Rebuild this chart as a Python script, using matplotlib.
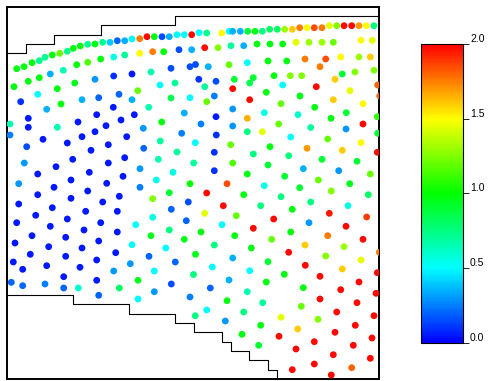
import numpy as np
import matplotlib
matplotlib.use("Agg")
import matplotlib.pyplot as plt
from matplotlib.colors import LinearSegmentedColormap

plt.rcParams['font.family'] = ['Liberation Sans', 'DejaVu Sans']

# node positions (x, y measured down from top) and field value, grouped in bands
top_arc = [
    (16.7, 68.7, 0.97), (24, 66.7, 0.97), (32, 62.7, 0.97), (39.3, 60.7, 0.72), (45, 57.3, 0.72),
    (52.3, 55, 0.97), (59.7, 53.3, 1.2), (67.3, 51.3, 0.72), (73.3, 48.3, 0.97), (80.3, 46, 0.97),
    (87.7, 44.3, 0.72), (95, 44, 0.97), (102.7, 42.3, 0.72), (110, 42.3, 0.4), (117.3, 40.7, 0.2),
    (124.7, 40.7, 0.35), (132, 39, 0.5), (139.7, 38.7, 1.75), (147, 36.7, 1.98), (154.3, 36.7, 0.97),
    (162, 36.7, 0.15), (169.3, 36.7, 0.35), (177, 34.7, 0.5), (184.3, 34.7, 0.5), (191.7, 34.7, 1.98),
    (199, 32.7, 0.5), (206.7, 33, 0.72), (221.7, 33, 1.5), (229.3, 31.3, 0.5), (232.7, 31.3, 0.35),
    (240.3, 31.3, 0.35), (247.7, 31.3, 0.9), (255, 31.3, 0.97), (262.3, 31.3, 0.75), (269.7, 29.3, 0.8),
    (277.3, 29.3, 0.8), (284.7, 29.3, 1.3), (292.3, 29.3, 1.6), (299.7, 27.7, 1.75), (307, 27.7, 1.5),
    (314.3, 27.7, 1.85), (322, 27.7, 1.75), (329.3, 25.7, 1.45), (336.7, 25.7, 1.25), (344, 25.7, 1.98),
    (351.7, 25.7, 1.98), (359, 25.7, 1.7), (366.3, 25.7, 1.5), (374, 25.7, 0.75),
]

band_a = [
    (139.7, 53.3, 1.5), (152.7, 51.7, 1.75), (163.7, 51.7, 0.97), (179, 49.7, 0.15), (191.7, 49.7, 0.35),
    (204.7, 47.7, 1.98), (218, 47.7, 1.25), (231, 45.7, 0.7), (243.7, 45.7, 0.35), (257, 44, 0.97),
    (270, 44, 0.97), (282.7, 44, 0.97), (296, 42.3, 1.45), (309, 42.3, 1.3), (322, 42.3, 1.3),
    (333.3, 42.3, 1.2), (361, 40.3, 1.5), (372.3, 40.3, 1.45),
    (76.7, 64.7, 0.97), (87.7, 62.3, 1.15), (100.7, 59, 0.97), (113.7, 57, 0.55), (124.7, 55, 0.7),
    (14, 86.7, 0.97), (28.3, 81.3, 0.97), (39.3, 77.7, 0.97), (50.3, 74, 0.35), (63.3, 70.3, 0.65),
    (74.7, 83, 0.95), (95, 79.3, 0.3), (113.7, 76, 0.1), (132, 74, 0.05), (151, 72, 0.65),
    (171, 68.3, 0.15), (190, 66.7, 0.15), (195.5, 64.5, 0.15), (208.3, 66.7, 0.35), (229, 64.7, 1.2),
    (247.3, 62.7, 0.5), (268, 61, 0.97), (286.7, 61, 0.97), (305, 59, 1.75), (325.7, 59, 1.85),
    (340.7, 57, 1.5), (359, 57, 1.3), (370.3, 57, 1.6),
]

band_b = [
    (37.7, 94.3, 0.5), (57.3, 88.7, 0.97), (82, 99.7, 0.35), (98.7, 97.7, 0.2), (119, 94.3, 0.2),
    (137.7, 90.7, 1.2), (160, 85, 0.5), (175, 83, 0.7), (198.8, 79.3, 0.1), (216, 81.3, 0.15),
    (234.3, 79.3, 0.9), (249.7, 83, 0.85), (253.3, 77.7, 0.9), (274, 75.7, 0.97), (290.3, 75.7, 1.25),
    (301.7, 75.7, 1.25), (320, 66.7, 1.75), (335, 79.3, 1.6), (342.3, 74, 0.9), (355, 72, 1.25),
    (374, 70.3, 1.25),
    (20.7, 101.7, 0.1), (46.7, 109.3, 0.35), (61, 104, 0.97), (132, 99.7, 0.35), (171, 98, 0.85),
    (190, 97.7, 0.5), (204.7, 86.7, 0.7), (232.7, 88.7, 1.98), (282.7, 85, 0.5), (316.3, 86.7, 1.98),
    (377.7, 85, 1.8), (206.7, 101.7, 1.2), (214.3, 96, 0.25), (249.7, 99.7, 1.98), (266.3, 92.3, 0.97),
    (300, 96, 0.95), (350, 90.7, 1.45), (379.7, 96, 1.8), (333.3, 99.7, 1.6), (363, 103.7, 1.5),
    (281, 103.7, 1.2),
    (113.3, 107.3, 0.05), (148.7, 107.3, 0.65), (184.3, 113, 0.35), (232.7, 109, 0.3), (264.3, 112.7, 0.55),
    (298, 114.7, 0.6), (314.7, 107.3, 0.97), (346.3, 112.7, 0.9), (377.3, 116.7, 1.1), (216, 116.7, 0.05),
    (247.3, 118.3, 1.65),
    (28.3, 118.3, 0.05), (96.7, 114.7, 0.05), (134.3, 114.7, 0.05), (78, 122, 0.05), (106, 125.7, 0.05),
    (121, 120, 0.05), (161.7, 122, 0.97), (10, 124, 0.65), (28.3, 127.3, 0.05), (57.3, 127.3, 0.65),
    (143.3, 128.3, 0.3), (201, 124, 0.25), (232.7, 126, 0.3), (278.7, 124, 1.2), (331, 118.3, 0.97),
    (363, 124, 1.98), (310.7, 127.5, 0.7), (346, 129, 0.3),
]

band_c = [
    (181.7, 133.3, 0.25), (216.3, 135, 0.1), (247.3, 131.7, 0.75), (262.3, 131.7, 1.45), (290.7, 137, 0.5),
    (377.7, 133.3, 0.9), (195.3, 142.7, 0.5), (230.7, 144.7, 1.2), (270, 146.7, 0.97), (307, 148.3, 1.7),
    (327.7, 139, 1.2), (361, 142.7, 1.5), (342.3, 150.3, 1.6), (214.3, 152.3, 0.1), (253.3, 154, 0.75),
    (288.7, 155.7, 0.75), (322, 159.3, 0.9), (357, 161.3, 0.9), (377.3, 152.3, 1.98), (193.7, 163, 0.7),
    (232.7, 163, 1.15), (268, 165, 0.9), (303.3, 168.7, 0.35), (338.7, 170.7, 0.3), (214.3, 170.7, 0.1),
    (247.3, 174, 0.97), (284.7, 176.3, 0.9), (318.3, 180, 1.2), (349.7, 183.7, 0.95), (370.3, 174, 1.2),
    (190, 183.7, 1.0), (227, 183.7, 1.85), (264.3, 185.7, 0.55), (299.7, 187.7, 0.9), (331.3, 191, 1.25),
    (368.3, 194.7, 0.8), (206.7, 193, 1.98), (243.7, 194.7, 0.97), (281, 196.7, 0.75), (310.7, 202, 0.75),
    (348, 205.7, 0.55), (188.3, 202, 0.15), (223.3, 205.7, 1.98), (260.7, 205.7, 0.75), (292.3, 209.3, 0.97),
    (329.3, 213.3, 1.95), (366.7, 217, 1.88), (204.7, 213.3, 1.45), (236.3, 215.7, 1.2), (273.7, 219, 1.98),
    (309, 222.7, 0.3), (346, 226.3, 1.98), (186.3, 220.7, 0.2), (222, 224.7, 0.5), (253.3, 228.3, 1.98),
    (290.7, 232, 0.97), (327.7, 235.7, 1.75), (363, 239.3, 1.98), (201, 232, 0.97), (234.7, 235.7, 0.97),
    (271.7, 239.3, 1.2), (305, 245, 1.6), (344, 246.7, 1.3), (184.3, 239.3, 0.95), (214.3, 245, 0.75),
    (251.3, 248, 0.97),
]

band_d = [
    (10, 135, 0.25), (43, 139.3, 0.05), (82, 136.7, 0.05), (95, 131.7, 0.05), (126.7, 136.7, 0.05),
    (26.7, 146.7, 0.15), (67.3, 143, 0.05), (91, 150.3, 0.05), (108.3, 144.7, 0.05), (143.7, 148.3, 0.2),
    (160.3, 141, 0.7), (177, 152, 0.7), (24.3, 163, 0.3), (56, 166.7, 0.05), (72.7, 159.3, 0.05),
    (108.3, 163, 0.05), (124.7, 157.7, 0.05), (158.3, 159.3, 0.65), (140, 168.7, 0.3), (173, 172.3, 0.55),
    (37.7, 174, 0.05), (89.3, 172.3, 0.05), (18.7, 183.7, 0.3), (71, 180, 0.05), (106.7, 183.3, 0.05),
    (123, 176.3, 0.05), (156.3, 180, 0.55), (54, 187.3, 0.05), (87.7, 191, 0.05), (140, 187.3, 0.25),
    (169.3, 192.7, 0.9), (37.7, 194.7, 0.05), (71, 198.3, 0.05), (102.7, 202, 0.05), (119.3, 196.3, 0.05),
    (152.7, 198.7, 1.25), (18.7, 204, 0.05), (52.3, 207.7, 0.05), (85.7, 211.3, 0.05), (117.3, 211.3, 0.05),
    (171.3, 209.3, 0.2), (35.7, 215.3, 0.05), (67.3, 219, 0.05), (100.7, 222.7, 0.05), (135.7, 224.7, 0.5),
    (152.7, 217.3, 0.55), (16.7, 222.7, 0.05), (50.3, 226.3, 0.05), (84, 230, 0.05), (117.3, 232, 0.05),
    (151, 235.7, 0.95), (169.3, 230, 0.75), (32, 235.7, 0.05), (65.7, 237.3, 0.05), (98.7, 241, 0.05),
    (132, 244.7, 0.5), (165.7, 248, 0.5), (15, 243, 0.05), (48.7, 246.7, 0.05), (82, 248, 0.05),
]

band_e = [
    (65.7, 256.3, 0.05), (30.3, 254.3, 0.05), (115.7, 252.7, 0.05), (149, 256.3, 0.2), (195.5, 254.3, 0.95),
    (13.3, 262, 0.05), (46.7, 265.7, 0.05), (80, 267.3, 0.05), (96.7, 260, 0.05), (130.3, 263.7, 0.3),
    (175.3, 262, 0.2), (22.7, 269.3, 0.05), (63.7, 276.7, 0.05), (113.7, 271, 0.3), (154.3, 271, 0.5),
    (193.5, 274.5, 0.75), (11.3, 282.3, 0.2), (22.7, 285.7, 0.2), (45, 284, 0.25), (63.7, 288, 0.2),
    (78.3, 288, 0.6), (96.7, 280.3, 0.05), (119.3, 288, 0.8), (138, 280.3, 0.95), (171.3, 284, 0.15),
    (98.7, 295.3, 0.2), (138, 299, 0.5), (154.3, 291.7, 0.3), (190, 297, 0.25), (195.3, 315.7, 0.75),
    (232.7, 258, 0.35), (268, 261.7, 0.9), (288.7, 252.3, 1.98), (325.7, 256, 1.25), (361, 260, 1.45),
    (379.3, 252.3, 1.75), (212.3, 267, 0.5), (249.7, 270.7, 0.5), (284.3, 274.3, 0.97), (305.3, 265.3, 1.98),
    (342.3, 269, 1.6), (377.3, 272.7, 1.98), (229, 280, 0.35), (266.3, 282, 0.97), (320, 276.3, 1.98),
    (359, 282, 1.98), (210.3, 288, 0.2), (247.3, 291.7, 0.65), (303.3, 287.7, 0.97), (340.7, 289.7, 1.98),
    (376, 293.3, 1.98), (227, 300.7, 0.97), (262.7, 302.7, 0.7), (320, 299, 1.98), (357, 302.7, 1.98),
    (206.7, 310, 0.5), (243.7, 312, 0.75), (301.3, 306.3, 1.2), (336.7, 312, 1.98), (374, 315.7, 1.98),
    (225.3, 321, 0.3), (260.7, 325.3, 0.97), (281, 317.3, 1.45), (318, 319.3, 1.25), (355.3, 325.3, 1.98),
    (242, 334.3, 0.97), (297.7, 329, 1.6), (335, 332.3, 1.98), (372, 338, 1.98), (279, 336.3, 1.98),
    (314.3, 341.7, 1.98), (353.3, 345.3, 1.98), (258.7, 345.3, 0.9), (296, 349, 1.98), (333.3, 354.7, 1.98),
    (370.3, 358.3, 1.98), (292.3, 369.7, 1.98), (314.3, 364, 1.98), (351.7, 367.7, 1.8), (331.3, 375, 1.98),
]

# stepped boundary of the domain
edge_top_x = [7, 26, 26, 54.3, 54.3, 100.7, 100.7, 175.3, 175.3, 379.3]
edge_top_y = [53.3, 53.3, 44.3, 44.3, 34.7, 34.7, 25.3, 25.3, 16, 16]
edge_bot_x = [7, 72.7, 72.7, 128.7, 128.7, 175.3, 175.3, 193.5, 193.5, 221.7, 221.7,
              230.7, 230.7, 249.3, 249.3, 268, 268, 277.3, 277.3]
edge_bot_y = [295, 295, 304.3, 304.3, 313.7, 313.7, 323, 323, 332.3, 332.3, 341.7,
              341.7, 351, 351, 360.3, 360.3, 369.7, 369.7, 379]

cbar_ticks = [0.0, 0.5, 1.0, 1.5, 2.0]

pts = np.array(top_arc + band_a + band_b + band_c + band_d + band_e)
x, y, v = pts[:, 0], pts[:, 1], pts[:, 2]

cmap = LinearSegmentedColormap.from_list(
    'bcgyr', ['#0000ff', '#00ffff', '#00ff00', '#ffff00', '#ff0000'])

fig = plt.figure(figsize=(4.88, 3.81), dpi=100)
ax = fig.add_axes([7 / 488, 1 - 379 / 381, 372.3 / 488, 372.3 / 381])
ax.set_xlim(7, 379.3)
ax.set_ylim(379, 6.7)
ax.set_xticks([])
ax.set_yticks([])
for s in ax.spines.values():
    s.set_linewidth(1.4)

ax.plot(edge_top_x, edge_top_y, color='black', lw=0.8)
ax.plot(edge_bot_x, edge_bot_y, color='black', lw=0.8)

sc = ax.scatter(x, y, c=v, cmap=cmap, vmin=0, vmax=2, s=24, linewidths=0, zorder=3)

cax = fig.add_axes([421 / 488, 1 - 342.7 / 381, 42 / 488, 298.7 / 381])
cb = fig.colorbar(sc, cax=cax, ticks=cbar_ticks, format='%.1f')
cb.outline.set_linewidth(0.8)
cax.tick_params(length=4, width=0.6, labelsize=7.5, pad=1)
for lab in cax.get_yticklabels():
    lab.set_verticalalignment('bottom')

fig.savefig('out.png', dpi=100)
